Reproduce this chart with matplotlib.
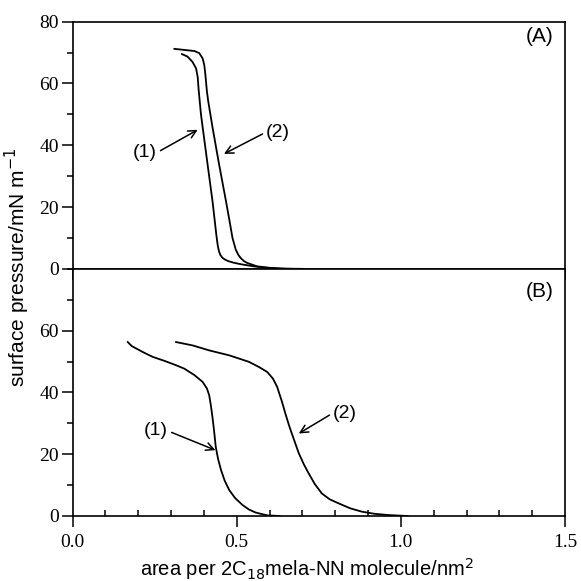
import matplotlib.pyplot as plt
from matplotlib.ticker import MultipleLocator

# panel A: two isotherms
a1_x = [0.333, 0.350, 0.365, 0.376, 0.381, 0.384, 0.391, 0.396, 0.411, 0.426, 0.433, 0.438, 0.442,
        0.446, 0.450, 0.456, 0.464, 0.474, 0.490, 0.512, 0.552, 0.593, 0.630, 0.660]
a1_y = [69.5, 68.7, 67.0, 64.9, 62.1, 57.8, 50.0, 45.9, 33.9, 22.0, 15.5, 10.8, 7.6,
        5.6, 4.5, 3.6, 3.0, 2.5, 2.0, 1.5, 0.8, 0.3, 0.05, 0.0]
a2_x = [0.310, 0.345, 0.371, 0.386, 0.396, 0.401, 0.404, 0.406, 0.409, 0.413, 0.426, 0.446, 0.467,
        0.478, 0.487, 0.497, 0.505, 0.512, 0.522, 0.532, 0.562, 0.603, 0.650, 0.700]
a2_y = [71.2, 70.8, 70.5, 69.8, 68.1, 66.0, 63.3, 61.0, 57.5, 54.3, 45.9, 33.9, 22.0,
        15.5, 10.0, 6.2, 4.5, 3.5, 2.5, 1.9, 0.8, 0.3, 0.05, 0.0]

# panel B
b1_x = [0.168, 0.180, 0.194, 0.215, 0.244, 0.280, 0.315, 0.340, 0.371, 0.396, 0.409, 0.416, 0.421,
        0.426, 0.431, 0.436, 0.443, 0.452, 0.463, 0.477, 0.495, 0.517, 0.537, 0.558, 0.593, 0.630]
b1_y = [56.3, 55.0, 54.2, 53.0, 51.5, 50.2, 48.8, 47.7, 45.6, 43.4, 41.3, 39.1, 35.9,
        32.0, 27.5, 22.4, 18.5, 14.9, 11.5, 8.4, 5.8, 3.6, 2.1, 1.1, 0.2, 0.0]
b2_x = [0.315, 0.366, 0.416, 0.477, 0.537, 0.568, 0.593, 0.610, 0.623, 0.638, 0.648, 0.659, 0.669,
        0.689, 0.704, 0.719, 0.738, 0.759, 0.783, 0.810, 0.845, 0.881, 0.920, 0.962, 1.020]
b2_y = [56.3, 55.2, 53.6, 52.0, 49.9, 48.2, 46.6, 44.5, 41.8, 36.9, 33.2, 29.4, 26.3,
        20.3, 16.8, 13.8, 10.3, 7.3, 5.4, 4.1, 2.5, 1.4, 0.7, 0.3, 0.0]

serif = 'Liberation Serif'
sans = 'Liberation Sans'

fig = plt.figure(figsize=(5.81, 5.81), dpi=100)
gs = fig.add_gridspec(2, 1, left=0.125, right=0.9725, top=0.9627, bottom=0.1119, hspace=0)
axA = fig.add_subplot(gs[0])
axB = fig.add_subplot(gs[1], sharex=axA)

for ax in (axA, axB):
    for s in ax.spines.values():
        s.set_linewidth(1.2)
    ax.set_xlim(0, 1.5)
    ax.set_ylim(0, 80)
    ax.xaxis.set_major_locator(MultipleLocator(0.5))
    ax.xaxis.set_minor_locator(MultipleLocator(0.1))
    ax.yaxis.set_minor_locator(MultipleLocator(10))
    ax.tick_params(axis='y', which='major', direction='out', length=8, width=1.1, pad=2, labelsize=14)
    ax.tick_params(axis='y', which='minor', direction='out', length=4.3, width=1.1)

axA.set_yticks([0, 20, 40, 60, 80])
axA.set_yticklabels(['0', '20', '40', '60', '80'], family=serif)
axA.tick_params(axis='x', which='both', direction='out', width=1.1, labelbottom=False)
axA.tick_params(axis='x', which='major', length=8)
axA.tick_params(axis='x', which='minor', length=4.3)

axB.set_yticks([0, 20, 40, 60])
axB.set_yticklabels(['0', '20', '40', '60'], family=serif)
axB.yaxis.set_minor_locator(MultipleLocator(10))
axB.set_ylim(0, 80)
axB.tick_params(axis='x', which='major', direction='out', length=8, width=1.1, pad=5, labelsize=14)
axB.tick_params(axis='x', which='minor', direction='in', length=4.3, width=1.1)
axB.set_xticks([0, 0.5, 1.0, 1.5])
axB.set_xticklabels(['0.0', '0.5', '1.0', '1.5'], family=serif)

axA.plot(a1_x, a1_y, color='black', lw=1.3)
axA.plot(a2_x, a2_y, color='black', lw=1.3)
axB.plot(b1_x, b1_y, color='black', lw=1.3)
axB.plot(b2_x, b2_y, color='black', lw=1.3)

arrow = dict(arrowstyle='->', color='black', lw=1.1, shrinkA=0, shrinkB=0, mutation_scale=14)
axA.annotate('(1)', xy=(0.381, 45.0), xytext=(0.22, 37.7), ha='center', va='center',
             fontsize=14, family=sans, arrowprops=dict(arrow, relpos=(1.15, 0.6)))
axA.annotate('(2)', xy=(0.461, 37.2), xytext=(0.626, 44.2), ha='center', va='center',
             fontsize=14, family=sans, arrowprops=dict(arrow, relpos=(-0.15, 0.4)))
axB.annotate('(1)', xy=(0.435, 21.3), xytext=(0.254, 27.6), ha='center', va='center',
             fontsize=14, family=sans, arrowprops=dict(arrow, relpos=(1.15, 0.4)))
axB.annotate('(2)', xy=(0.689, 26.7), xytext=(0.830, 33.2), ha='center', va='center',
             fontsize=14, family=sans, arrowprops=dict(arrow, relpos=(-0.15, 0.4)))

axA.text(1.465, 75.2, '(A)', ha='right', va='center', fontsize=15, family=sans)
axB.text(1.465, 72.5, '(B)', ha='right', va='center', fontsize=15, family=sans)

fig.text(0.03, 0.54, 'surface pressure/mN m$^{-1}$', rotation=90, ha='center', va='center',
         fontsize=15, family=sans)
fig.text(0.529, 0.009, 'area per 2C$_{18}$mela-NN molecule/nm$^{2}$', ha='center', va='baseline',
         fontsize=14.5, family=sans)

fig.savefig('out.png', dpi=100)
